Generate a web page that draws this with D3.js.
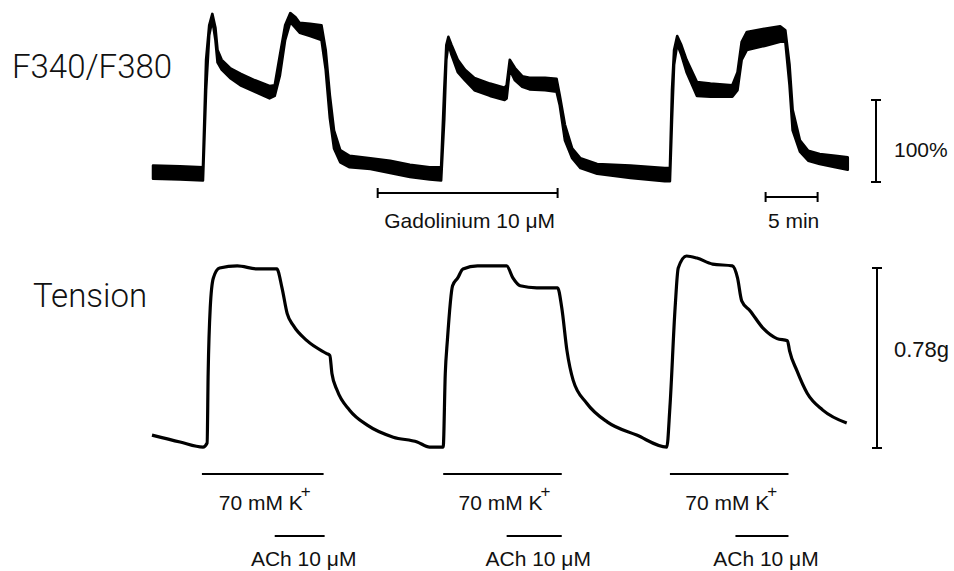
<!DOCTYPE html>
<html>
<head>
<meta charset="utf-8">
<script src="https://cdn.jsdelivr.net/npm/d3@7"></script>
<style>
  body { margin: 0; background: #fff; }
  svg { display: block; }
  text { font-family: "Liberation Sans", Arial, sans-serif; fill: #111; }
  .big { font-family: Roboto, "Liberation Sans", sans-serif; font-weight: 300; }
</style>
</head>
<body>
<svg width="954" height="571"></svg>
<script>
// Time (min) of each reading
const fTime = [0.1, 2.7, 4.9, 5.2, 5.5, 5.8, 6.1, 6.3, 6.7, 7.5, 8.5, 9.9, 11.3, 11.8, 12.3, 12.8, 13.3, 13.8, 14.2, 15.2, 16.3,
  16.7, 17.1, 17.5, 18.1, 19.0, 21.0, 22.9, 24.8, 26.7, 27.8, 28.1, 28.3, 28.5, 28.8, 29.4, 30.1, 31.0, 32.5, 33.9, 34.1,
  34.4, 34.9, 35.6, 36.3, 37.8, 38.9, 39.2, 39.7, 40.4, 41.2, 42.8, 46.0, 49.3, 49.8, 50.0, 50.2, 50.5, 50.9, 51.4, 52.4,
  53.7, 55.8, 56.3, 56.7, 57.2, 58.9, 60.4, 60.9, 61.3, 61.6, 62.3, 63.1, 64.2, 65.7, 66.9];
// F340/F380 ratio (% of scale bar), upper and lower edge of the noisy trace
const fHigh = [20, 19, 18, 149, 191, 205, 188, 161, 149, 139, 132, 124, 117, 118, 155, 191, 206, 201, 194, 193, 191,
  161, 106, 63, 39, 32, 29, 26, 21, 18, 18, 112, 167, 177, 167, 149, 137, 127, 120, 115, 118,
  149, 139, 129, 127, 127, 126, 106, 70, 41, 29, 22, 20, 17, 17, 112, 161, 178, 167, 149, 122,
  120, 118, 134, 171, 183, 187, 190, 185, 143, 88, 51, 38, 34, 32, 30];
const fLow = [4, 3, 2, 112, 179, 198, 173, 146, 137, 127, 118, 110, 102, 105, 130, 173, 195, 188, 182, 178, 173,
  137, 78, 41, 24, 18, 16, 11, 6, 3, 2, 76, 149, 168, 155, 134, 124, 112, 105, 100, 102,
  137, 124, 116, 113, 112, 110, 94, 51, 29, 17, 10, 5, 1, 1, 76, 143, 168, 155, 134, 105,
  104, 104, 112, 149, 161, 166, 171, 171, 118, 63, 37, 26, 22, 18, 15];

// Tension (g)
const tTime = [0, 2.7, 4.9, 5.3, 5.4, 5.6, 5.9, 6.5, 8.2, 10.1, 12.0, 12.5, 13.0, 13.6, 14.9, 16.8, 17.1, 17.3, 17.8, 19.0,
  20.7, 23.2, 25.5, 26.7, 28.0, 28.2, 28.4, 28.9, 29.4, 29.9, 31.3, 34.1, 34.7, 35.4, 37.0, 39.0, 39.4, 39.9, 40.5, 41.8,
  43.8, 46.6, 49.5, 49.8, 50.3, 50.6, 51.4, 52.4, 53.9, 55.8, 56.3, 56.7, 57.5, 58.8, 60.1, 61.1, 61.3, 62.0, 63.0, 64.5, 66.8];
const tension = [0.056, 0.026, 0.004, 0.022, 0.323, 0.608, 0.737, 0.780, 0.789, 0.776, 0.776, 0.694, 0.582, 0.530, 0.465, 0.409, 0.401, 0.323, 0.250, 0.164,
  0.099, 0.047, 0.026, 0.004, 0.004, 0.323, 0.465, 0.703, 0.737, 0.776, 0.789, 0.789, 0.737, 0.703, 0.694, 0.694, 0.608, 0.422, 0.293, 0.194,
  0.112, 0.056, 0.004, 0.177, 0.608, 0.780, 0.832, 0.823, 0.797, 0.789, 0.737, 0.638, 0.595, 0.517, 0.474, 0.465, 0.422, 0.336, 0.237, 0.164, 0.108];

// Drug application periods (min)
const kStart = [4.8, 28.0, 49.8];
const kEnd = [16.5, 39.4, 61.2];
const achStart = [11.8, 34.1, 56.1];
const achEnd = [16.6, 39.4, 61.2];
const gdPeriod = [21.7, 39.0];
const timeBar = [59.0, 64.0];   // 5 min
const ratioBar = [0, 100];      // 100%
const tensionBar = [0, 0.78];   // 0.78g

const svg = d3.select("svg");

// Scales
const x = d3.scaleLinear().domain([0, 67]).range([152, 848.8]);
const yF = d3.scaleLinear().domain([0, 100]).range([182, 100]);
const yT = d3.scaleLinear().domain([0, 0.78]).range([448, 268]);

// F340/F380 trace drawn as a band between upper and lower edge
const fData = fTime.map((t, i) => ({ t: t, hi: fHigh[i], lo: fLow[i] }));
const band = d3.area()
  .x(d => x(d.t))
  .y0(d => yF(d.lo))
  .y1(d => yF(d.hi));

svg.append("path")
  .datum(fData)
  .attr("d", band)
  .attr("fill", "#000")
  .attr("stroke", "#000")
  .attr("stroke-width", 2.6)
  .attr("stroke-linejoin", "round");

// Tension trace
const tData = tTime.map((t, i) => ({ t: t, v: tension[i] }));
const tLine = d3.line()
  .x(d => x(d.t))
  .y(d => yT(d.v))
  .curve(d3.curveMonotoneX);

svg.append("path")
  .datum(tData)
  .attr("d", tLine)
  .attr("fill", "none")
  .attr("stroke", "#000")
  .attr("stroke-width", 3.2)
  .attr("stroke-linejoin", "round");

// Labels on the left
svg.append("text").attr("class", "big")
  .attr("x", 12).attr("y", 78)
  .style("font-size", "33px")
  .text("F340/F380");
svg.append("text").attr("class", "big")
  .attr("x", 33).attr("y", 307)
  .style("font-size", "33px")
  .text("Tension");

// Horizontal bar with end ticks
function hBar(t0, t1, y, tick) {
  svg.append("line")
    .attr("x1", x(t0)).attr("x2", x(t1))
    .attr("y1", y).attr("y2", y)
    .attr("stroke", "#000").attr("stroke-width", 2);
  if (tick) {
    [t0, t1].forEach(t => {
      svg.append("line")
        .attr("x1", x(t)).attr("x2", x(t))
        .attr("y1", y - tick).attr("y2", y + tick)
        .attr("stroke", "#000").attr("stroke-width", 2);
    });
  }
}

// Gadolinium and time scale bars
hBar(gdPeriod[0], gdPeriod[1], 193, 5);
svg.append("text")
  .attr("x", (x(gdPeriod[0]) + x(gdPeriod[1])) / 2 + 2).attr("y", 228)
  .attr("text-anchor", "middle")
  .style("font-size", "21px")
  .text("Gadolinium 10 μM");

hBar(timeBar[0], timeBar[1], 197, 5);
svg.append("text")
  .attr("x", (x(timeBar[0]) + x(timeBar[1])) / 2 + 2).attr("y", 228)
  .attr("text-anchor", "middle")
  .style("font-size", "21px")
  .text("5 min");

// Vertical scale bars
function vBar(scale, range, xPos) {
  svg.append("line")
    .attr("x1", xPos).attr("x2", xPos)
    .attr("y1", scale(range[0])).attr("y2", scale(range[1]))
    .attr("stroke", "#000").attr("stroke-width", 2);
  range.forEach(v => {
    svg.append("line")
      .attr("x1", xPos - 5).attr("x2", xPos + 5)
      .attr("y1", scale(v)).attr("y2", scale(v))
      .attr("stroke", "#000").attr("stroke-width", 2);
  });
}
vBar(yF, ratioBar, 876);
vBar(yT, tensionBar, 877);

svg.append("text")
  .attr("x", 894).attr("y", 157)
  .style("font-size", "21px")
  .text("100%");
svg.append("text")
  .attr("x", 894).attr("y", 357)
  .style("font-size", "22px")
  .text("0.78g");

// 70 mM K+ and ACh application bars
kStart.forEach((s, i) => {
  hBar(s, kEnd[i], 474, 0);
  const k = svg.append("text")
    .attr("x", (x(s) + x(kEnd[i])) / 2 + 2).attr("y", 510)
    .attr("text-anchor", "middle")
    .style("font-size", "21px");
  k.append("tspan").text("70 mM K");
  k.append("tspan").attr("dx", -2).attr("dy", -13).style("font-size", "17px").text("+");

  hBar(achStart[i], achEnd[i], 536, 0);
  svg.append("text")
    .attr("x", (x(achStart[i]) + x(achEnd[i])) / 2 + 4).attr("y", 566)
    .attr("text-anchor", "middle")
    .style("font-size", "21px")
    .text("ACh 10 μM");
});
</script>
</body>
</html>
